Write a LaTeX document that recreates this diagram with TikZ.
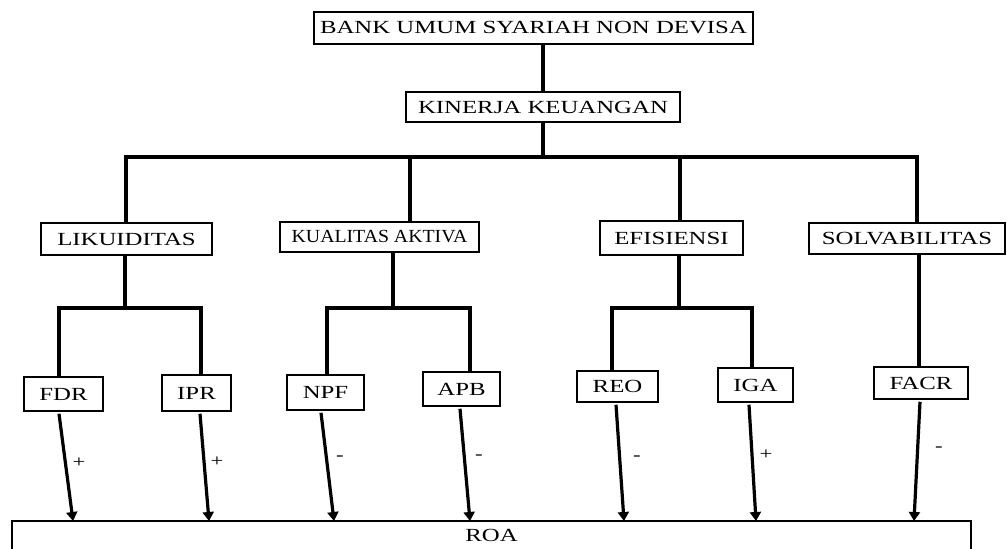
\documentclass[tikz,border=0pt]{standalone}
\usepackage{fontspec}
\setmainfont[FakeStretch=1.34]{Liberation Serif}
\newfontfamily\narrowfont[FakeStretch=1.07]{Liberation Serif}
\usetikzlibrary{arrows.meta}
\begin{document}
\begin{tikzpicture}[x=1pt,y=-1pt,
  box/.style={draw, line width=1.5pt, inner sep=0pt, font=\fontsize{18.5}{20}\selectfont},
  conn/.style={line width=3.2pt},
  arr/.style={line width=3.2pt, -{Triangle[length=9pt,width=11pt]}},
  sign/.style={font=\fontsize{17}{19}\selectfont, inner sep=0pt}]
\useasboundingbox (0,0) rectangle (1007,549);
\clip (0,0) rectangle (1007,549);
% boxes
\node[box, minimum width=439pt, minimum height=32pt] (top) at (533.5,28) {BANK UMUM SYARIAH NON DEVISA};
\node[box, minimum width=274pt, minimum height=30pt] (kin) at (543,107) {KINERJA KEUANGAN};
\node[box, minimum width=171pt, minimum height=32pt] (lik) at (126.5,239) {LIKUIDITAS};
\node[box, minimum width=199pt, minimum height=30pt] (kual) at (379.5,237) {\narrowfont KUALITAS AKTIVA};
\node[box, minimum width=143pt, minimum height=34pt] (efi) at (671.5,238) {EFISIENSI};
\node[box, minimum width=196pt, minimum height=31pt] (solv) at (907,238.5) {SOLVABILITAS};
\node[box, minimum width=79pt, minimum height=34pt] (fdr) at (63.5,394) {FDR};
\node[box, minimum width=69pt, minimum height=36pt] (ipr) at (196.5,393) {IPR};
\node[box, minimum width=77pt, minimum height=35pt] (npf) at (325.5,392.5) {NPF};
\node[box, minimum width=77pt, minimum height=34pt] (apb) at (461.5,389) {APB};
\node[box, minimum width=81pt, minimum height=31pt] (reo) at (617.5,386.5) {REO};
\node[box, minimum width=75pt, minimum height=34pt] (iga) at (755.5,385) {IGA};
\node[box, minimum width=94pt, minimum height=32pt] (facr) at (921,383) {FACR};
\node[box, minimum width=959pt, minimum height=34pt] (roa) at (491.5,538) {\raisebox{5pt}{ROA}};
% junction coordinates
\coordinate (b1) at (126,157);
\coordinate (b2) at (410,157);
\coordinate (b3) at (680,157);
\coordinate (b4) at (917,157);
\coordinate (l0) at (125,308);
\coordinate (l1) at (59,308);
\coordinate (l2) at (201,308);
\coordinate (k0) at (393,308);
\coordinate (k1) at (327,308);
\coordinate (k2) at (470,308);
\coordinate (q0) at (679,308);
\coordinate (q1) at (612,308);
\coordinate (q2) at (752,308);
% tree
\draw[conn] (kin.north) -- (kin.north |- top.south);
\draw[conn] (kin.south) -- (kin.south |- b1);
\draw[conn] (lik.north -| b1) -- (b1) -- (b4) -- (solv.north -| b4);
\draw[conn] (b2) -- (kual.north -| b2);
\draw[conn] (b3) -- (efi.north -| b3);
\draw[conn] (lik.south -| l0) -- (l0);
\draw[conn] (fdr.north -| l1) -- (l1) -- (l2) -- (ipr.north -| l2);
\draw[conn] (kual.south -| k0) -- (k0);
\draw[conn] (npf.north -| k1) -- (k1) -- (k2) -- (apb.north -| k2);
\draw[conn] (efi.south -| q0) -- (q0);
\draw[conn] (reo.north -| q1) -- (q1) -- (q2) -- (iga.north -| q2);
\draw[conn] ([xshift=12pt]solv.south) -- ([xshift=-2pt]facr.north);
% arrow ends on ROA
\coordinate (r1) at (73,521);
\coordinate (r2) at (209,521);
\coordinate (r3) at (334,521);
\coordinate (r4) at (470,521);
\coordinate (r5) at (624,521);
\coordinate (r6) at (756,521);
\coordinate (r7) at (914,521);
\draw[arr] ([xshift=-4.5pt,yshift=-2pt]fdr.south) -- (r1);
\draw[arr] ([xshift=3.5pt,yshift=-2pt]ipr.south) -- (r2);
\draw[arr] ([xshift=-4.5pt,yshift=-2pt]npf.south) -- (r3);
\draw[arr] ([xshift=-1.5pt,yshift=-2pt]apb.south) -- (r4);
\draw[arr] ([xshift=-1.5pt,yshift=-2pt]reo.south) -- (r5);
\draw[arr] ([xshift=-6.5pt,yshift=-2pt]iga.south) -- (r6);
\draw[arr] ([xshift=-1pt,yshift=-2pt]facr.south) -- (r7);
% signs
\node[sign] (s1) at (79,463) {+};
\node[sign] (s2) at (217,462) {+};
\node[sign] (s3) at (340,458) {-};
\node[sign] (s4) at (479,457) {-};
\node[sign] (s5) at (637,458) {-};
\node[sign] (s6) at (766,455) {+};
\node[sign] (s7) at (939,449) {-};
\end{tikzpicture}
\end{document}
